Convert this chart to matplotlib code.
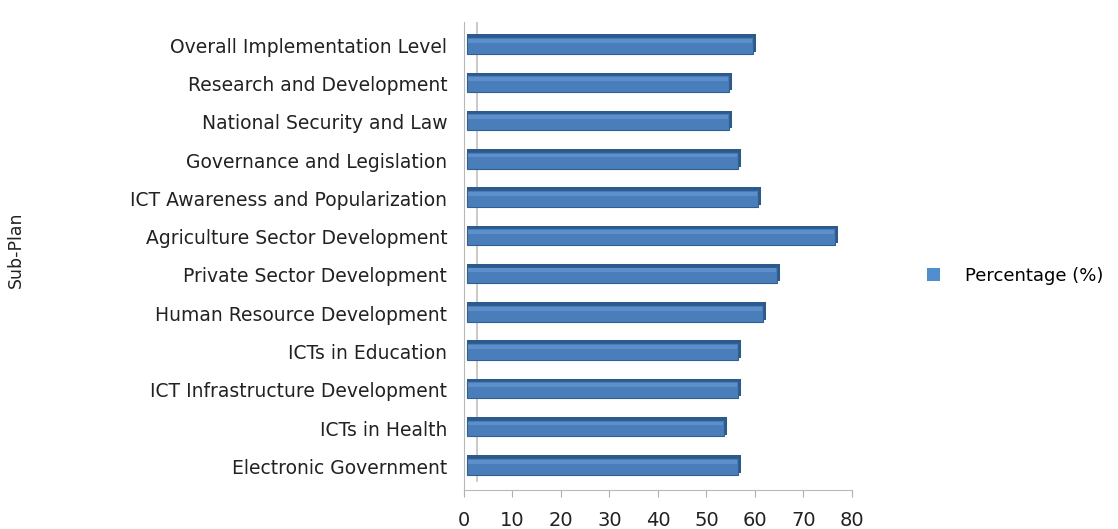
import matplotlib.pyplot as plt
from matplotlib.patches import Patch

# Sub-plans, bottom to top as drawn
sub_plans = [
    "Electronic Government",
    "ICTs in Health",
    "ICT Infrastructure Development",
    "ICTs in Education",
    "Human Resource Development",
    "Private Sector Development",
    "Agriculture Sector Development",
    "ICT Awareness and Popularization",
    "Governance and Legislation",
    "National Security and Law",
    "Research and Development",
    "Overall Implementation Level",
]
percentages = [56, 53, 56, 56, 61, 64, 76, 60, 56, 54, 54, 59]
x_ticks = [0, 10, 20, 30, 40, 50, 60, 70, 80]

bar_color = "#4a7ebb"
edge_color = "#2f5f95"

fig = plt.figure(figsize=(11.18, 5.29), dpi=100)
ax = fig.add_axes([0.415, 0.0737, 0.347, 0.884])

y = list(range(len(sub_plans)))
# depth face behind the bar for a light 3D look
ax.barh([v + 0.06 for v in y], [p + 0.6 for p in percentages], left=0.6, height=0.46,
        color="#2c5a8c", zorder=2)
ax.barh(y, percentages, left=0.6, height=0.44, color=bar_color,
        edgecolor=edge_color, linewidth=0.8, zorder=3)
# light highlight along the top of each bar
ax.barh([v + 0.12 for v in y], [p - 0.4 for p in percentages], left=0.8, height=0.1,
        color="#5d8fcb", linewidth=0, zorder=4)

ax.set_xlim(0, 80)
ax.set_ylim(-0.62, 11.6)
ax.set_xticks(x_ticks)
ax.set_xticklabels([str(t) for t in x_ticks], fontsize=14, color="#222222")
ax.tick_params(axis="x", direction="out", length=5, color="#b0b0b0", pad=10)
ax.set_yticks(y)
ax.set_yticklabels(sub_plans, fontsize=13.5, color="#222222")
ax.tick_params(axis="y", length=0, pad=12)

for s in ["top", "right"]:
    ax.spines[s].set_visible(False)
ax.spines["bottom"].set_color("#b8b8b8")
ax.spines["left"].set_color("#b8b8b8")

# back wall line of the 3D frame
ax.axvline(2.7, ymin=0.02, ymax=1.0, color="#c0c0c0", linewidth=1.2, zorder=1)

fig.text(0.014, 0.527, "Sub-Plan", rotation=90, fontsize=12.5, color="#222222",
         va="center", ha="center")

handles = [Patch(facecolor="#4f8fd0", edgecolor="none", label="Percentage (%)")]
fig.legend(handles=handles, loc="center left", bbox_to_anchor=(0.815, 0.478),
           frameon=False, fontsize=13, handlelength=0.7, handleheight=0.7,
           handletextpad=1.4)

fig.savefig("out.png", dpi=100)
